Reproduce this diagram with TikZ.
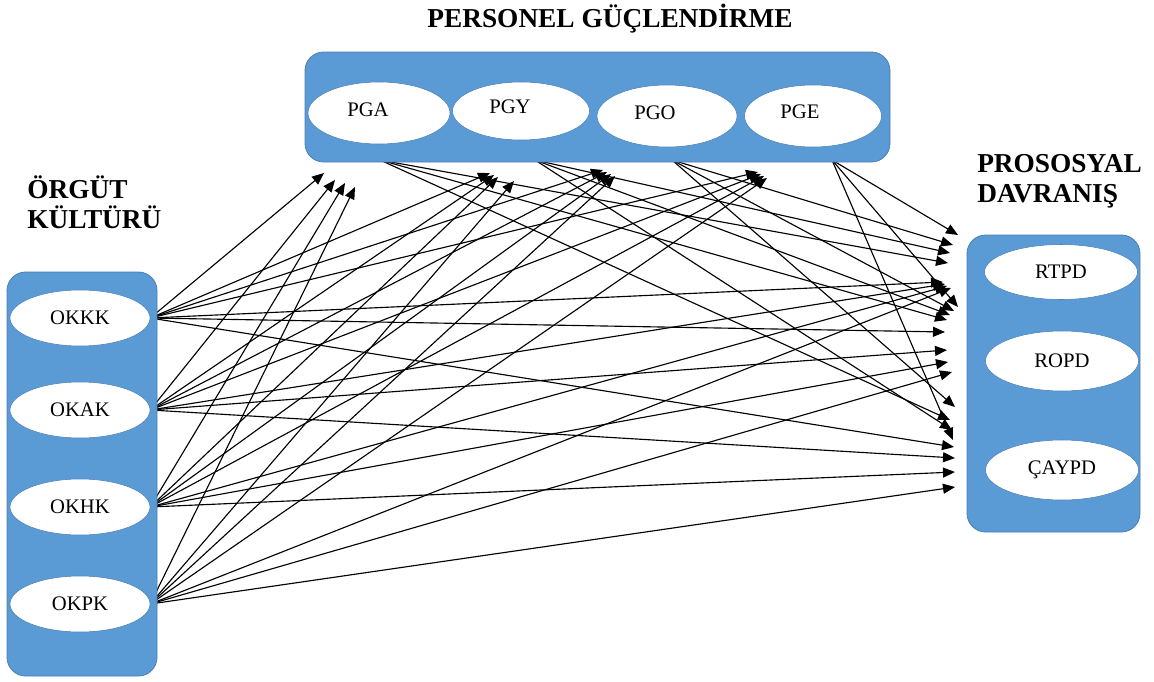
\documentclass[tikz,border=0pt]{standalone}
\usepackage{fontspec}
\setmainfont{Liberation Serif}
\usetikzlibrary{arrows.meta,shapes.geometric,backgrounds}
\definecolor{boxblue}{HTML}{5B9BD5}
\definecolor{boxedge}{HTML}{4A7EB5}
\begin{document}
\begin{tikzpicture}[x=0.75pt,y=-0.75pt,
  container/.style={draw=boxedge, line width=0.6pt, fill=boxblue, rounded corners=14pt, inner sep=0pt},
  oval/.style={ellipse, draw=boxedge, line width=0.4pt, fill=white, inner sep=0pt, font=\fontsize{15.5}{18}\selectfont},
  lbl/.style={inner sep=0pt, font=\fontsize{15.5}{18}\selectfont},
  heading/.style={inner sep=0pt, font=\fontsize{20.5}{24}\selectfont\bfseries},
  arr/.style={-{Triangle[length=9pt,width=7.5pt]}, line width=0.85pt, black},
]
\useasboundingbox (0,0) rectangle (1154,682);

% headings
\node[heading, anchor=base] (pgtitle) at (610,27) {PERSONEL GÜÇLENDİRME};
\node[heading, anchor=base west] (okt1) at (27,198) {ÖRGÜT};
\node[heading, anchor=base west] (okt2) at (27,228) {KÜLTÜRÜ};
\node[heading, anchor=base west] (pdt1) at (977,172) {PROSOSYAL};
\node[heading, anchor=base west] (pdt2) at (977,202) {DAVRANIŞ};

% containers
\node[container, minimum width=438.75pt, minimum height=82.5pt] (pg) at (597.5,107) {};
\node[container, minimum width=112.5pt, minimum height=303pt] (ok) at (82,474) {};
\node[container, minimum width=129.75pt, minimum height=222.75pt] (pd) at (1053.5,383.5) {};

% top ovals
\node[oval, minimum width=106.5pt, minimum height=46.5pt] (pga) at (379,113) {};
\node[oval, minimum width=102.75pt, minimum height=43.5pt] (pgy) at (521,111) {};
\node[oval, minimum width=105pt, minimum height=46.5pt] (pgo) at (667,116) {};
\node[oval, minimum width=102.75pt, minimum height=46.5pt] (pge) at (813,116) {};
\node[lbl] (pgaL) at (368,110) {PGA};
\node[lbl] (pgyL) at (510,107) {PGY};
\node[lbl] (pgoL) at (655,113) {PGO};
\node[lbl] (pgeL) at (800,112) {PGE};

% left ovals
\node[oval, minimum width=105pt, minimum height=42pt] (okkk) at (80,318) {OKKK};
\node[oval, minimum width=105pt, minimum height=42pt] (okak) at (80,410) {OKAK};
\node[oval, minimum width=105pt, minimum height=42pt] (okhk) at (80,507) {OKHK};
\node[oval, minimum width=105pt, minimum height=42pt] (okpk) at (80,604) {OKPK};

% right ovals
\node[oval, minimum width=114.75pt, minimum height=41.25pt] (rtpd) at (1061,272) {RTPD};
\node[oval, minimum width=114.75pt, minimum height=45pt] (ropd) at (1062,361) {ROPD};
\node[oval, minimum width=114.75pt, minimum height=45pt] (caypd) at (1062,470) {ÇAYPD};

% connector start points on the lower edge of the top container
\coordinate (pgaS) at (380,160);
\coordinate (pgyS) at (535,160);
\coordinate (pgoS) at (672,160);
\coordinate (pgeS) at (832,160);

% arrow tips below the top container
\coordinate (a1) at (324,173); \coordinate (a2) at (335,180); \coordinate (a3) at (345,183); \coordinate (a4) at (355,187);
\coordinate (y1) at (490,173); \coordinate (y2) at (494,175); \coordinate (y3) at (498,177); \coordinate (y4) at (514,181);
\coordinate (o1) at (603,170); \coordinate (o2) at (607,172); \coordinate (o3) at (611,174); \coordinate (o4) at (615,176);
\coordinate (e1) at (758,172); \coordinate (e2) at (761,174); \coordinate (e3) at (764,176); \coordinate (e4) at (767,178);

% arrow tips left of the right container
\coordinate (r1) at (948,263); \coordinate (r2) at (950,253); \coordinate (r3) at (953,245); \coordinate (r4) at (958,235);
\coordinate (r5) at (943,282); \coordinate (r6) at (945,284); \coordinate (r7) at (947,286); \coordinate (r8) at (951,288);
\coordinate (m1) at (947,320); \coordinate (m2) at (950,315); \coordinate (m3) at (954,311); \coordinate (m4) at (958,307);
\coordinate (m5) at (945,332); \coordinate (m6) at (947,350); \coordinate (m7) at (948,362); \coordinate (m8) at (952,372);
\coordinate (c1) at (950,420); \coordinate (c2) at (952,430); \coordinate (c3) at (955,407); \coordinate (c4) at (953,440);
\coordinate (c5) at (954,447); \coordinate (c6) at (955,458); \coordinate (c7) at (955,472); \coordinate (c8) at (955,487);

\begin{pgfonlayer}{background}
% OK -> PG
\draw[arr] (okkk.east) -- (a1); \draw[arr] (okak.east) -- (a2); \draw[arr] (okhk.east) -- (a3); \draw[arr] (okpk.east) -- (a4);
\draw[arr] (okkk.east) -- (y1); \draw[arr] (okak.east) -- (y2); \draw[arr] (okhk.east) -- (y3); \draw[arr] (okpk.east) -- (y4);
\draw[arr] (okkk.east) -- (o1); \draw[arr] (okak.east) -- (o2); \draw[arr] (okhk.east) -- (o3); \draw[arr] (okpk.east) -- (o4);
\draw[arr] (okkk.east) -- (e1); \draw[arr] (okak.east) -- (e2); \draw[arr] (okhk.east) -- (e3); \draw[arr] (okpk.east) -- (e4);
% PG -> PD
\draw[arr] (pgaS) -- (r1); \draw[arr] (pgyS) -- (r2); \draw[arr] (pgoS) -- (r3); \draw[arr] (pgeS) -- (r4);
\draw[arr] (pgaS) -- (m1); \draw[arr] (pgyS) -- (m2); \draw[arr] (pgoS) -- (m3); \draw[arr] (pgeS) -- (m4);
\draw[arr] (pgaS) -- (c1); \draw[arr] (pgyS) -- (c2); \draw[arr] (pgoS) -- (c3); \draw[arr] (pgeS) -- (c4);
% OK -> PD
\draw[arr] (okkk.east) -- (r5); \draw[arr] (okak.east) -- (r6); \draw[arr] (okhk.east) -- (r7); \draw[arr] (okpk.east) -- (r8);
\draw[arr] (okkk.east) -- (m5); \draw[arr] (okak.east) -- (m6); \draw[arr] (okhk.east) -- (m7); \draw[arr] (okpk.east) -- (m8);
\draw[arr] (okkk.east) -- (c5); \draw[arr] (okak.east) -- (c6); \draw[arr] (okhk.east) -- (c7); \draw[arr] (okpk.east) -- (c8);
\end{pgfonlayer}
\end{tikzpicture}
\end{document}
